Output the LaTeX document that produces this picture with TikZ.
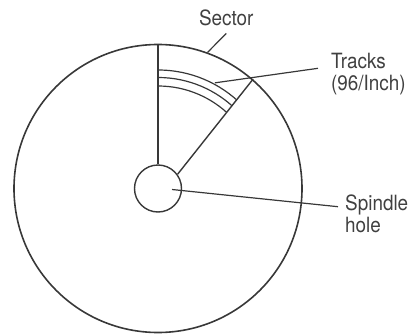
\documentclass[tikz,border=0pt]{standalone}
\usepackage{fontspec}
\setmainfont[FakeStretch=0.9]{TeX Gyre Heros}
\usetikzlibrary{calc}
\begin{document}
\begin{tikzpicture}[x=1pt,y=1pt,
  ink/.style={draw=black!78},
  rim/.style={ink, line width=1.6pt},
  edge/.style={ink, line width=1.4pt},
  track/.style={ink, line width=1.2pt},
  leader/.style={ink, line width=1.2pt},
  lbl/.style={font=\fontsize{21}{22}\selectfont, text=black!75, align=left, inner sep=0pt}]
\useasboundingbox (0,0) rectangle (415,333);
% disk and spindle hole
\node[circle, rim, minimum size=288pt, inner sep=0pt] (disk) at (158,144.5) {};
\node[circle, edge, minimum size=47pt, inner sep=0pt] (hole) at (158,144.5) {};
% sector boundaries
\draw[edge] (hole.north) -- (disk.north);
\draw[edge] (hole.36) -- (disk.49);
% tracks, clipped to the sector
\begin{scope}
  \clip (hole.north) -- ([yshift=30pt]disk.north) -- ($(hole.36)!1.3!(disk.49)$) -- (hole.36) -- cycle;
  \foreach \r in {118.5,111,102.5} \draw[track] (hole.center) circle[radius=\r];
\end{scope}
% labels (base anchor of a two-line node is the baseline of its last line)
\node[lbl, anchor=base, outer ysep=8pt] (sector) at (226.3,308) {Sector};
\node[lbl, anchor=base west, outer xsep=13pt] (tracks) at (318,242.7) {Tracks\\(96/Inch)};
\node[lbl, anchor=base west] (spindle) at (345,100.3) {Spindle\\hole};
% leaders
\coordinate (trackpt) at ($(hole.center)+(61.7:120)$);
\coordinate (spinpt) at ($(hole.center)+(14,-1)$);
\draw[leader] (disk.70) -- (sector.south);
\draw[leader] (trackpt) -- ([yshift=22pt]tracks.base west);
\draw[leader] (spinpt) -- ([shift={(-7,26)}]spindle.base west);
\end{tikzpicture}
\end{document}
